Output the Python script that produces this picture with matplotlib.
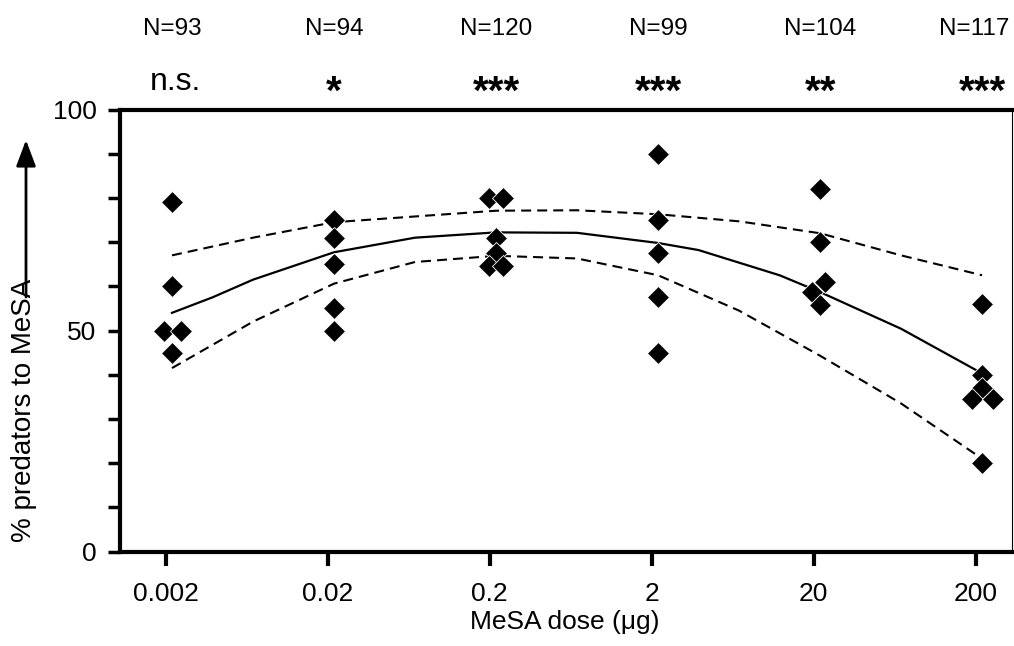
import numpy as np
import matplotlib.pyplot as plt
from matplotlib.patches import FancyArrowPatch
from matplotlib.ticker import NullLocator, FixedLocator

plt.rcParams['font.family'] = ['Liberation Sans', 'DejaVu Sans']

doses = [0.002, 0.02, 0.2, 2, 20, 200]
dose_labels = ['0.002', '0.02', '0.2', '2', '20', '200']
n_labels = ['N=93', 'N=94', 'N=120', 'N=99', 'N=104', 'N=117']
sig_labels = ['n.s.', '*', '***', '***', '**', '***']

# % predators per replicate, with small horizontal jitter (decades) as drawn
pts = [
    [79, 60, 50, 50, 45],
    [75, 71, 65, 55, 50],
    [80, 80, 71, 67.5, 64.5, 64.5],
    [90, 75, 67.5, 57.5, 45],
    [82, 70, 61, 58.7, 55.7],
    [56, 40, 37, 34.5, 34.5, 20],
]
jit = [
    [0, 0, -0.052, 0.052, 0],
    [0, 0, 0, 0, 0],
    [-0.047, 0.045, 0, 0, -0.047, 0.045],
    [0, 0, 0, 0, 0],
    [0, 0, 0.03, -0.05, 0],
    [0, 0, 0, -0.064, 0.065, 0],
]

# fitted curve and confidence band (x as log10 dose)
fit_log = [-2.7, -2.45, -2.2, -1.7, -1.2, -0.7, -0.2, 0.3, 0.55, 1.05, 1.3, 1.8, 2.3]
fit_mid = [54, 57.5, 61.5, 67.7, 71, 72.2, 72.1, 69.8, 68.2, 62.5, 58.7, 50.4, 40.3]
band_log = [-2.7, -2.2, -1.7, -1.2, -0.7, -0.2, 0.3, 0.8, 1.3, 1.8, 2.3]
band_hi = [67, 71, 74.5, 75.8, 77.1, 77.2, 76.3, 74.7, 72, 67, 62.5]
band_lo = [41.5, 52, 60.6, 65.5, 66.9, 66.3, 62.5, 54.5, 44.3, 33.5, 21]

fig = plt.figure(figsize=(10.14, 6.46), dpi=100)
ax = fig.add_axes([120 / 1014, 94.5 / 646, 892 / 1014, 442 / 646])

dash = (0, (4.8, 2.9))
ax.plot(10 ** np.array(fit_log), fit_mid, color='k', lw=1.6, zorder=2)
ax.plot(10 ** np.array(band_log), band_hi, color='k', lw=1.5, ls=dash, zorder=2)
ax.plot(10 ** np.array(band_log), band_lo, color='k', lw=1.5, ls=dash, zorder=2)

for d, ys, js in zip(doses, pts, jit):
    xs = d * 10 ** np.array(js)
    ax.plot(xs, ys, 'D', color='k', ms=11, mec='white', mew=0.6, zorder=3)

ax.set_xscale('log')
ax.set_xlim(10 ** -3.021, 10 ** 2.485)
ax.set_ylim(0, 100)
ax.xaxis.set_major_locator(FixedLocator([d * 10 ** -0.04 for d in doses]))
ax.xaxis.set_minor_locator(NullLocator())
ax.set_xticklabels(dose_labels)
ax.set_yticks([0, 50, 100])
ax.set_yticks(np.arange(0, 101, 10), minor=True)
ax.tick_params(axis='x', length=10, width=3, labelsize=19, pad=12)
ax.tick_params(axis='y', which='both', length=9, width=2.5, labelsize=19, pad=8)
ax.tick_params(axis='y', which='minor', labelleft=False)

for s in ['left', 'bottom', 'top']:
    ax.spines[s].set_linewidth(3)
ax.spines['right'].set_linewidth(0.8)

tr = ax.get_xaxis_transform()
for i, (d, n, s) in enumerate(zip(doses, n_labels, sig_labels)):
    if i == len(doses) - 1:
        # last label sits flush with the right edge
        ax.text(0.997, 1.168, n, transform=ax.transAxes, ha='right', va='baseline', fontsize=17.5)
    else:
        ax.text(d, 1.168, n, transform=tr, ha='center', va='baseline', fontsize=17.5)
    if s == 'n.s.':
        ax.text(d * 10 ** 0.02, 1.044, s, transform=tr, ha='center', va='baseline', fontsize=23)
    else:
        ax.text(d, 1.012, s, transform=tr, ha='center', va='baseline', fontsize=29, fontweight='bold')

fig.text(565 / 1014, (646 - 622) / 646, 'MeSA dose (μg)', ha='center', va='center', fontsize=19)
fig.text(24 / 1014, (646 - 410) / 646, '% predators to MeSA', ha='center', va='center',
         rotation=90, fontsize=20)

arr = FancyArrowPatch((26 / 1014, (646 - 297) / 646), (26 / 1014, (646 - 140) / 646),
                      transform=fig.transFigure, arrowstyle='-|>,head_length=16,head_width=6',
                      mutation_scale=1, lw=2, color='k', shrinkA=0, shrinkB=0)
fig.patches.append(arr)

fig.savefig('out.png', dpi=100)
